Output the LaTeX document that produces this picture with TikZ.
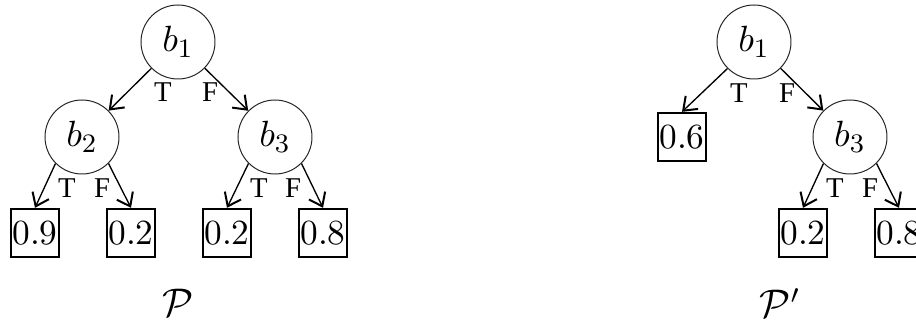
\documentclass[tikz,border=0pt]{standalone}
\usepackage{fontspec}
\usepackage{amsmath}
\newfontfamily\tffont{Liberation Serif}
\usetikzlibrary{arrows.meta}

\begin{document}
\begin{tikzpicture}[x=0.3pt,y=-0.3pt,
    test/.style={draw=black!85,circle,line width=0.3pt,minimum size=22.2pt,inner sep=0pt,font=\fontsize{11}{12}\selectfont},
    leaf/.style={draw,line width=0.7pt,minimum size=14.4pt,inner sep=0pt,font=\fontsize{10.6}{12}\selectfont},
    branch/.style={-{Straight Barb[length=3.6pt,width=5.4pt,line width=0.6pt]},line width=0.4pt},
    lbl/.style={font=\tffont\fontsize{8.6}{9}\selectfont}]
    \useasboundingbox (0,0) rectangle (916,321);

    % Left: full tree P
    \node[test] (pb1) at (178,42) {$b_1$};
    \node[test] (pb2) at (82,137) {$b_2$};
    \node[test] (pb3) at (275,137) {$b_3$};
    \node[leaf] (pl1) at (35,233) {0.9};
    \node[leaf] (pl2) at (131,233) {0.2};
    \node[leaf] (pl3) at (227,233) {0.2};
    \node[leaf] (pl4) at (323,233) {0.8};

    \draw[branch] (pb1) -- (pb2);
    \draw[branch] (pb1) -- (pb3);
    \draw[branch] (pb2.south west) -- (pl1.north);
    \draw[branch] (pb2.south east) -- (pl2.north);
    \draw[branch] (pb3.south west) -- (pl3.north);
    \draw[branch] (pb3.south east) -- (pl4.north);

    \node[lbl] at (163,92) {T};
    \node[lbl] at (210,92) {F};
    \node[lbl] at (67,188) {T};
    \node[lbl] at (102,188) {F};
    \node[lbl] at (259,188) {T};
    \node[lbl] at (293,188) {F};

    \node[font=\fontsize{12}{14}\selectfont] (pname) at (178,303) {$\mathcal{P}$};

    % Right: reduced tree P'
    \node[test] (qb1) at (754,42) {$b_1$};
    \node[test] (qb3) at (850,137) {$b_3$};
    \node[leaf] (ql1) at (682,137) {0.6};
    \node[leaf] (ql2) at (803,233) {0.2};
    \node[leaf] (ql3) at (899,233) {0.8};

    \draw[branch] (qb1.south west) -- (ql1.north);
    \draw[branch] (qb1) -- (qb3);
    \draw[branch] (qb3.south west) -- (ql2.north);
    \draw[branch] (qb3.south east) -- (ql3.north);

    \node[lbl] at (739,93) {T};
    \node[lbl] at (787,93) {F};
    \node[lbl] at (835,188) {T};
    \node[lbl] at (870,188) {F};

    \node[font=\fontsize{12}{14}\selectfont] (qname) at (780,303) {$\mathcal{P}'$};
\end{tikzpicture}
\end{document}
